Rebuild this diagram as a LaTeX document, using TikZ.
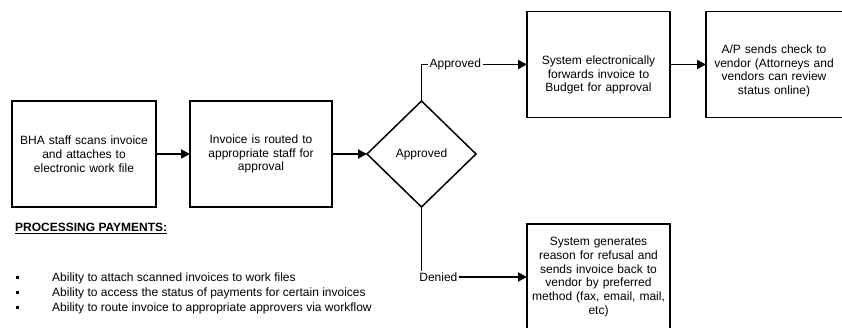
\documentclass[tikz,border=0pt]{standalone}
\usepackage{fontspec}
\setmainfont{Liberation Sans}
\usetikzlibrary{positioning,arrows.meta,shapes.geometric}

\begin{document}
\begin{tikzpicture}[x=1pt, y=-1pt, >={Triangle[length=9pt,width=9pt]},
  every node/.style={font=\fontsize{12}{13.8}\selectfont},
  box/.style={draw, line width=1.8pt, minimum width=#1, minimum height=106pt, text width=136pt, align=center, inner sep=0pt, outer sep=0pt},
  box/.default=143pt,
  decision/.style={draw, diamond, line width=1.5pt, minimum width=109pt, minimum height=106pt, inner sep=0pt, outer sep=0pt},
  lbl/.style={fill=white, inner sep=2pt}]
  \useasboundingbox (0,0) rectangle (842,328);
  \node[box=144pt] (scan) at (84,154) {BHA staff scans invoice\\and attaches to\\electronic work file};
  \node[box=142pt, right=34pt of scan] (route) {Invoice is routed to\\appropriate staff for\\approval};
  \node[decision, right=35pt of route] (check) {Approved};
  \node[box, anchor=west] (forward) at (527,64.5) {\rule{0pt}{29.5pt}System electronically\\forwards invoice to\\Budget for approval};
  \node[box=150pt, text width=146pt, right=36pt of forward] (pay) {\rule{0pt}{21.5pt}A/P sends check to\rule{14pt}{0pt}\\vendor (Attorneys and\rule{14pt}{0pt}\\vendors can review\rule{14pt}{0pt}\\status online)\rule{14pt}{0pt}};
  \node[box, below=106.5pt of forward] (refuse) {System generates\\reason for refusal and\\sends invoice back to\\vendor by preferred\\method (fax, email, mail,\\etc)};
  \path[->, line width=1.8pt]
  (scan) edge (route)
  (route) edge (check)
  (forward) edge (pay)
  ;
  \draw[->, line width=1.8pt] (check.north) |- node[lbl, pos=0.66] {Approved} (forward.west);
  \draw[->, line width=1.8pt] (check.south) |- node[lbl, pos=0.58] {Denied} (refuse.west);
  % feature list
  \node (heading) [anchor=base west, inner sep=0pt] at (15,232) {\underline{\textbf{PROCESSING PAYMENTS:}}};
  \node (features) [anchor=north west, inner sep=0pt, font=\fontsize{12}{15}\selectfont] at (15,270.5) {%
    \begin{tabular}{@{}p{37pt}@{}l@{}}
      \hspace{1pt}\rule[2pt]{3pt}{3pt} & Ability to attach scanned invoices to work files\\
      \hspace{1pt}\rule[2pt]{3pt}{3pt} & Ability to access the status of payments for certain invoices\\
      \hspace{1pt}\rule[2pt]{3pt}{3pt} & Ability to route invoice to appropriate approvers via workflow
    \end{tabular}};
\end{tikzpicture}
\end{document}
